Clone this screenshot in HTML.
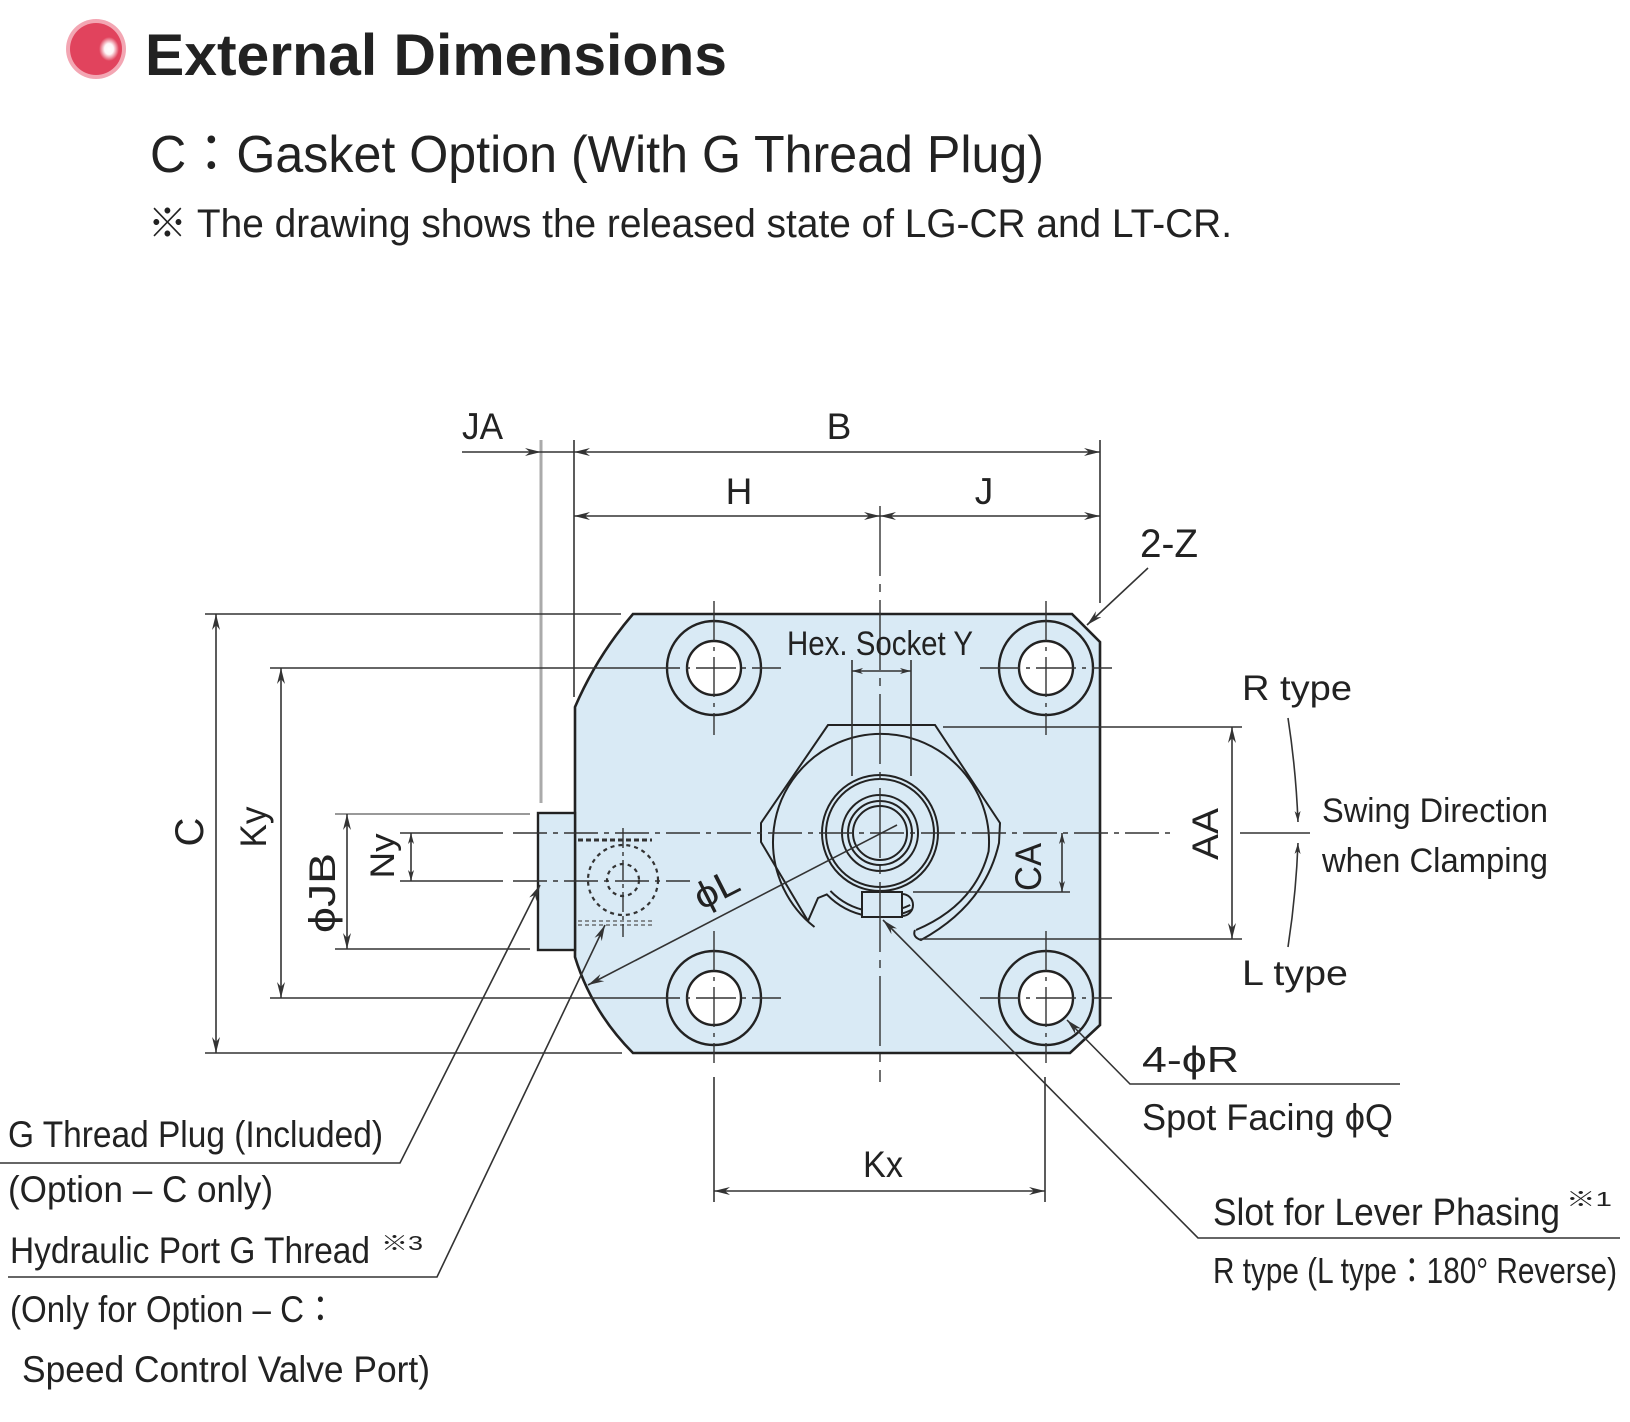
<!DOCTYPE html>
<html><head><meta charset="utf-8">
<style>
html,body{margin:0;padding:0;background:#fff;}
svg{display:block;}
text{font-family:"Liberation Sans","Noto Sans CJK JP",sans-serif;fill:#222;}
.l{stroke:#333;stroke-width:1.6;fill:none;}
.c{stroke:#333;stroke-width:1.4;fill:none;stroke-dasharray:34 6 5 6;}
.k{stroke:#222;stroke-width:2.4;fill:none;}
</style></head><body>
<svg width="1630" height="1422" viewBox="0 0 1630 1422" xmlns="http://www.w3.org/2000/svg">
<defs>
<marker id="a" viewBox="0 0 16 8" refX="16" refY="4" markerWidth="16" markerHeight="8" markerUnits="userSpaceOnUse" orient="auto-start-reverse"><path d="M0,0 L16,4 L0,8 L5,4 z" fill="#333"/></marker>
<marker id="s" viewBox="0 0 11 6" refX="11" refY="3" markerWidth="11" markerHeight="6" markerUnits="userSpaceOnUse" orient="auto-start-reverse"><path d="M0,0 L11,3 L0,6 L3,3 z" fill="#333"/></marker>
<radialGradient id="hl" cx="0.5" cy="0.5" r="0.5"><stop offset="0" stop-color="#fff"/><stop offset="0.45" stop-color="#fff" stop-opacity="0.95"/><stop offset="1" stop-color="#fff" stop-opacity="0"/></radialGradient>
</defs>

<!-- Header -->
<circle cx="96" cy="49" r="30" fill="#f3a6b3"/>
<circle cx="96" cy="49" r="26" fill="#e1435d"/>
<ellipse cx="109" cy="49" rx="10" ry="12" fill="url(#hl)"/>
<text x="145" y="75" font-size="58" font-weight="bold" textLength="582" lengthAdjust="spacingAndGlyphs">External Dimensions</text>
<text x="150" y="172" font-size="52" textLength="894" lengthAdjust="spacingAndGlyphs">C：Gasket Option (With G Thread Plug)</text>
<text x="148" y="237" font-size="40" textLength="1084" lengthAdjust="spacingAndGlyphs">※ The drawing shows the released state of LG-CR and LT-CR.</text>

<!-- Block -->
<path d="M633,614 L1072,614 L1100,642 L1100,1025 L1070,1053 L633,1053 Q592,1012 575,957 L575,707 Q597,656 633,614 Z" fill="#d9eaf5" stroke="#222" stroke-width="2.6"/>
<rect x="538" y="813" width="37" height="137" fill="#d9eaf5" stroke="#222" stroke-width="2.4"/>

<!-- port (hidden) -->
<line x1="578" y1="840" x2="652" y2="840" stroke="#333" stroke-width="3" stroke-dasharray="5 3"/>
<line x1="578" y1="921" x2="652" y2="921" stroke="#555" stroke-width="1.2" stroke-dasharray="4 3"/>
<line x1="578" y1="925" x2="652" y2="925" stroke="#555" stroke-width="1.2" stroke-dasharray="4 3"/>
<circle cx="623" cy="880" r="35" stroke="#333" stroke-width="2.2" stroke-dasharray="4 4" fill="none"/>
<circle cx="623" cy="880" r="16" stroke="#333" stroke-width="2.2" stroke-dasharray="4 4" fill="none"/>
<line x1="623" y1="828" x2="623" y2="937" class="c" style="stroke-dasharray:20 4 4 4"/>

<!-- holes -->
<g class="k">
<circle cx="714" cy="668" r="47"/><circle cx="1046" cy="668" r="47"/>
<circle cx="714" cy="998" r="47"/><circle cx="1046" cy="998" r="47"/>
</g>
<g fill="#fff" stroke="#222" stroke-width="2.4">
<circle cx="714" cy="668" r="27"/><circle cx="1046" cy="668" r="27"/>
<circle cx="714" cy="998" r="27"/><circle cx="1046" cy="998" r="27"/>
</g>
<g class="c" style="stroke-dasharray:40 6 4 6">
<line x1="640" y1="668" x2="781" y2="668"/><line x1="980" y1="668" x2="1112" y2="668"/>
<line x1="640" y1="998" x2="781" y2="998"/><line x1="980" y1="998" x2="1112" y2="998"/>
<line x1="714" y1="601" x2="714" y2="735"/><line x1="1046" y1="601" x2="1046" y2="735"/>
<line x1="714" y1="931" x2="714" y2="1063"/><line x1="1046" y1="931" x2="1046" y2="1063"/>
</g>

<!-- lever -->
<g stroke="#222" stroke-width="2" fill="none">
<path d="M808,921 L761,842 L761,823 L828,725 L935,725 L1000,823 L999,843 Q985,905 921,940 Q912,937 915,930"/>
<path d="M814.5,927 A108,108 0 1 1 988.6,851.4 Q975,905 916,930"/>
<path d="M808,921 L818,898 L826.8,894.4 A74,74 0 0 0 912.4,909.5"/>
<path d="M830.4,890.9 A69,69 0 0 0 910.2,905"/>
<circle cx="880" cy="833" r="58"/><circle cx="880" cy="833" r="54"/>
<circle cx="880" cy="833" r="38"/><circle cx="880" cy="833" r="32"/>
<circle cx="880" cy="833" r="27"/>
<rect x="862" y="892" width="40" height="25" fill="#d9eaf5"/>
<path d="M902,894 A11,11 0 0 1 902,916"/>
</g>

<!-- center lines -->
<line x1="880" y1="506" x2="880" y2="1082" class="c" style="stroke-dasharray:70 8 8 8"/>
<line x1="513" y1="833" x2="1173" y2="833" class="c"/>
<line x1="1240" y1="833" x2="1310" y2="833" class="l"/>
<line x1="513" y1="881" x2="690" y2="881" class="c"/>

<!-- top dims -->
<line x1="541" y1="440" x2="541" y2="803" stroke="#aaa" stroke-width="3"/>
<line x1="574" y1="440" x2="574" y2="697" class="l"/>
<line x1="1100" y1="440" x2="1100" y2="603" class="l"/>
<line x1="462" y1="452" x2="541" y2="452" class="l" marker-end="url(#a)"/>
<line x1="541" y1="452" x2="574" y2="452" class="l"/>
<line x1="574" y1="452" x2="1100" y2="452" class="l" marker-start="url(#a)" marker-end="url(#a)"/>
<line x1="574" y1="516" x2="880" y2="516" class="l" marker-start="url(#a)" marker-end="url(#a)"/>
<line x1="880" y1="516" x2="1100" y2="516" class="l" marker-start="url(#a)" marker-end="url(#a)"/>

<!-- left dims -->
<line x1="205" y1="614" x2="621" y2="614" class="l"/>
<line x1="205" y1="1053" x2="622" y2="1053" class="l"/>
<line x1="216" y1="614" x2="216" y2="1053" class="l" marker-start="url(#a)" marker-end="url(#a)"/>
<line x1="270" y1="668" x2="640" y2="668" class="l"/>
<line x1="270" y1="998" x2="640" y2="998" class="l"/>
<line x1="281" y1="668" x2="281" y2="998" class="l" marker-start="url(#a)" marker-end="url(#a)"/>
<line x1="335" y1="814" x2="530" y2="814" stroke="#999" stroke-width="2"/>
<line x1="335" y1="949" x2="530" y2="949" class="l"/>
<line x1="347" y1="814" x2="347" y2="949" class="l" marker-start="url(#a)" marker-end="url(#a)"/>
<line x1="400" y1="833" x2="503" y2="833" class="l"/>
<line x1="400" y1="881" x2="503" y2="881" class="l"/>
<line x1="411" y1="833" x2="411" y2="881" class="l" marker-start="url(#s)" marker-end="url(#s)"/>

<!-- hex socket dim -->
<line x1="852" y1="660" x2="852" y2="776" class="l"/>
<line x1="911" y1="660" x2="911" y2="776" class="l"/>
<line x1="852" y1="671" x2="911" y2="671" class="l" marker-start="url(#s)" marker-end="url(#s)"/>

<!-- right dims -->
<line x1="943" y1="727" x2="1242" y2="727" class="l"/>
<line x1="920" y1="939" x2="1242" y2="939" class="l"/>
<line x1="1232" y1="727" x2="1232" y2="939" class="l" marker-start="url(#a)" marker-end="url(#a)"/>
<line x1="913" y1="892" x2="1070" y2="892" class="l"/>
<line x1="1062" y1="833" x2="1062" y2="892" class="l" marker-start="url(#s)" marker-end="url(#s)"/>
<path d="M1288,718 Q1296,770 1298,822" class="l" marker-end="url(#s)"/>
<path d="M1288,947 Q1296,895 1298,843" class="l" marker-end="url(#s)"/>

<!-- bottom dims -->
<line x1="714" y1="1077" x2="714" y2="1202" class="l"/>
<line x1="1045" y1="1077" x2="1045" y2="1202" class="l"/>
<line x1="714" y1="1191" x2="1045" y2="1191" class="l" marker-start="url(#a)" marker-end="url(#a)"/>

<!-- leaders -->
<line x1="897" y1="825" x2="588" y2="985" class="l" marker-end="url(#a)"/>
<polyline points="883,920 1198,1238 1620,1238" class="l" marker-start="url(#a)"/>
<polyline points="1067,1020 1130,1084 1400,1084" class="l" marker-start="url(#a)"/>
<line x1="1148" y1="568" x2="1087" y2="625" class="l" marker-end="url(#a)"/>
<polyline points="0,1163 400,1163 540,885" class="l" marker-end="url(#a)"/>
<polyline points="8,1277 437,1277 605,925" class="l" marker-end="url(#a)"/>

<!-- labels -->
<text x="462" y="439" font-size="37" textLength="41" lengthAdjust="spacingAndGlyphs">JA</text>
<text x="839" y="439" font-size="37" text-anchor="middle">B</text>
<text x="739" y="504" font-size="37" text-anchor="middle">H</text>
<text x="984" y="504" font-size="37" text-anchor="middle">J</text>
<text x="1140" y="557" font-size="40" textLength="58" lengthAdjust="spacingAndGlyphs">2-Z</text>
<text x="787" y="655" font-size="34" textLength="186" lengthAdjust="spacingAndGlyphs">Hex. Socket Y</text>
<text x="1242" y="700" font-size="35" textLength="110" lengthAdjust="spacingAndGlyphs">R type</text>
<text x="1322" y="822" font-size="34" textLength="226" lengthAdjust="spacingAndGlyphs">Swing Direction</text>
<text x="1322" y="872" font-size="34" textLength="226" lengthAdjust="spacingAndGlyphs">when Clamping</text>
<text x="1242" y="985" font-size="35" textLength="106" lengthAdjust="spacingAndGlyphs">L type</text>
<text x="1142" y="1072" font-size="36" textLength="97" lengthAdjust="spacingAndGlyphs">4-ϕR</text>
<text x="1142" y="1130" font-size="37" textLength="251" lengthAdjust="spacingAndGlyphs">Spot Facing ϕQ</text>
<text x="1213" y="1225" font-size="38" textLength="347" lengthAdjust="spacingAndGlyphs">Slot for Lever Phasing</text>
<text x="1566" y="1206" font-size="20" textLength="46" lengthAdjust="spacingAndGlyphs">※1</text>
<text x="1213" y="1283" font-size="36" textLength="404" lengthAdjust="spacingAndGlyphs">R type (L type：180° Reverse)</text>
<text x="863" y="1177" font-size="37" textLength="40" lengthAdjust="spacingAndGlyphs">Kx</text>
<text x="8" y="1147" font-size="37" textLength="375" lengthAdjust="spacingAndGlyphs">G Thread Plug (Included)</text>
<text x="8" y="1202" font-size="37" textLength="265" lengthAdjust="spacingAndGlyphs">(Option – C only)</text>
<text x="10" y="1263" font-size="37" textLength="360" lengthAdjust="spacingAndGlyphs">Hydraulic Port G Thread</text>
<text x="381" y="1250" font-size="20" textLength="42" lengthAdjust="spacingAndGlyphs">※3</text>
<text x="10" y="1322" font-size="37" textLength="327" lengthAdjust="spacingAndGlyphs">(Only for Option – C：</text>
<text x="22" y="1382" font-size="37" textLength="408" lengthAdjust="spacingAndGlyphs">Speed Control Valve Port)</text>

<!-- rotated labels -->
<text transform="translate(203,832) rotate(-90)" font-size="40" text-anchor="middle">C</text>
<text transform="translate(266,827) rotate(-90)" font-size="37" text-anchor="middle" textLength="41" lengthAdjust="spacingAndGlyphs">Ky</text>
<text transform="translate(335,893) rotate(-90)" font-size="37" text-anchor="middle" textLength="80" lengthAdjust="spacingAndGlyphs">ϕJB</text>
<text transform="translate(394,856) rotate(-90)" font-size="34" text-anchor="middle" textLength="45" lengthAdjust="spacingAndGlyphs">Ny</text>
<text transform="translate(1041,867) rotate(-90)" font-size="37" text-anchor="middle" textLength="48" lengthAdjust="spacingAndGlyphs">CA</text>
<text transform="translate(1218,834) rotate(-90)" font-size="37" text-anchor="middle" textLength="52" lengthAdjust="spacingAndGlyphs">AA</text>
<text transform="translate(722,900) rotate(-27)" font-size="37" text-anchor="middle" textLength="46" lengthAdjust="spacingAndGlyphs">ϕL</text>
</svg>
</body></html>
